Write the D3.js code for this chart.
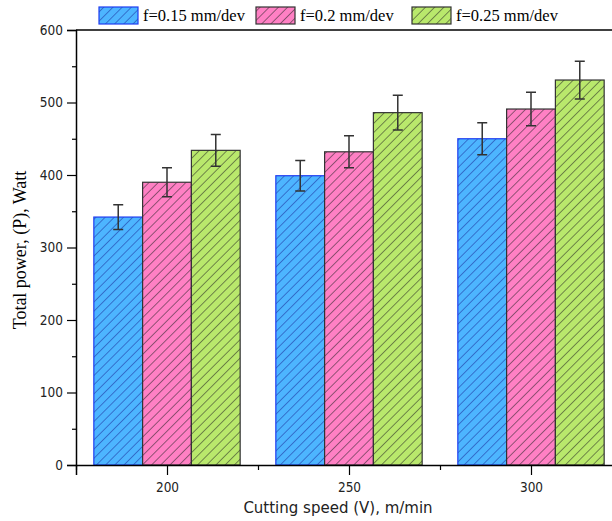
<!DOCTYPE html>
<html>
<head>
<meta charset="utf-8">
<script src="https://cdn.jsdelivr.net/npm/d3@7"></script>
<style>
  body { margin: 0; background: #fff; }
  svg { display: block; }
</style>
</head>
<body>
<div id="okvir"></div>
<script>
// podaci
const brzine = [200, 250, 300]
const serije = ["f=0.15 mm/dev", "f=0.2 mm/dev", "f=0.25 mm/dev"]
const snaga015 = [342, 399, 450]
const snaga02 = [390, 432, 491]
const snaga025 = [434, 486, 531]
const greska015 = [17, 21, 22]
const greska02 = [20, 22, 23]
const greska025 = [22, 24, 26]
const yTickovi = [0, 100, 200, 300, 400, 500, 600]
const xTickovi = [200, 250, 300]

const vrijednosti = [snaga015, snaga02, snaga025]
const greske = [greska015, greska02, greska025]

const boje = ["#4db5ff", "#ff80c4", "#b9e86c"]
const obrubi = ["#1f3cf0", "#333", "#333"]
const crte = ["#1a2a9a", "#222", "#222"]

const sirina = 612
const visina = 521

const okvir = d3.select("#okvir")
  .append("svg")
    .attr("width", sirina)
    .attr("height", visina)

// uzorci crtkanja
const defs = okvir.append("defs")
serije.forEach((s, i) => {
  const p = defs.append("pattern")
      .attr("id", "srafura" + i)
      .attr("patternUnits", "userSpaceOnUse")
      .attr("width", 6.5)
      .attr("height", 6.5)
      .attr("patternTransform", "rotate(45)")
  p.append("rect")
      .attr("width", 6.5).attr("height", 6.5)
      .attr("fill", boje[i])
  p.append("line")
      .attr("x1", 0).attr("y1", 0)
      .attr("x2", 0).attr("y2", 6.5)
      .attr("stroke", crte[i])
      .attr("stroke-width", 1)
})

// razmjeri
const xSkala = d3.scaleLinear()
  .domain([175, 325])
  .range([76, 622])

const ySkala = d3.scaleLinear()
  .domain([0, 600])
  .range([465, 30])

const sirinaStupca = 13.4 // u jedinicama brzine

// okvir grafa - gornja linija
okvir.append("line")
    .attr("x1", xSkala(175)).attr("x2", sirina)
    .attr("y1", ySkala(600)).attr("y2", ySkala(600))
    .attr("stroke", "#000")
    .attr("stroke-width", 1.5)

// stupci
serije.forEach((s, i) => {
  const g = okvir.append("g")
  const podaci = brzine.map((b, j) => ({ b, v: vrijednosti[i][j], e: greske[i][j] }))
  const pomak = (i - 1.5) * sirinaStupca

  g.selectAll("rect")
    .data(podaci)
    .join("rect")
      .attr("x", d => xSkala(d.b + pomak))
      .attr("y", d => ySkala(d.v))
      .attr("width", d => xSkala(d.b + pomak + sirinaStupca) - xSkala(d.b + pomak))
      .attr("height", d => ySkala(0) - ySkala(d.v))
      .attr("fill", `url(#srafura${i})`)
      .attr("stroke", obrubi[i])
      .attr("stroke-width", 1.2)

  // greske
  const cx = d => xSkala(d.b + pomak + sirinaStupca / 2)
  g.selectAll(".greska")
    .data(podaci)
    .join("path")
      .attr("class", "greska")
      .attr("d", d => {
        const x = cx(d), y1 = ySkala(d.v + d.e), y2 = ySkala(d.v - d.e)
        return `M${x - 5},${y1}H${x + 5}M${x},${y1}V${y2}M${x - 5},${y2}H${x + 5}`
      })
      .attr("fill", "none")
      .attr("stroke", "#333")
      .attr("stroke-width", 1.5)
})

// osi
const yOs = okvir.append("g")
    .style("transform", `translateX(${xSkala(175)}px)`)
    .call(d3.axisLeft(ySkala).tickValues(yTickovi).tickSize(9).tickPadding(4))
yOs.append("g")
    .call(d3.axisLeft(ySkala).tickValues(d3.range(50, 600, 100)).tickSize(4).tickFormat(""))
    .select(".domain").remove()

const xOs = okvir.append("g")
    .style("transform", `translateY(${ySkala(0)}px)`)
    .call(d3.axisBottom(xSkala).tickValues(xTickovi).tickSize(10).tickPadding(7))
xOs.append("g")
    .call(d3.axisBottom(xSkala).tickValues([175, 225, 275]).tickSize(5).tickFormat(""))
    .select(".domain").remove()

okvir.selectAll(".domain")
    .attr("stroke-width", 1.5)
okvir.selectAll(".tick line")
    .attr("stroke-width", 1.2)
okvir.selectAll(".tick text")
    .style("font-family", "'DejaVu Sans Condensed', 'DejaVu Sans', sans-serif")
    .style("font-size", "13.5px")
    .attr("fill", "#222")

// oznake osi
okvir.append("text")
    .attr("transform", `translate(26, 250) rotate(-90)`)
    .attr("text-anchor", "middle")
    .style("font-family", "'Liberation Serif', 'Times New Roman', serif")
    .style("font-size", "18px")
    .text("Total power, (P), Watt")

okvir.append("text")
    .attr("x", 338)
    .attr("y", 513)
    .attr("text-anchor", "middle")
    .style("font-family", "'DejaVu Sans', sans-serif")
    .style("font-size", "15px")
    .attr("fill", "#222")
    .text("Cutting speed (V), m/min")

// legenda
const legendaX = [99, 256, 412]
serije.forEach((s, i) => {
  okvir.append("rect")
      .attr("x", legendaX[i]).attr("y", 7)
      .attr("width", 39).attr("height", 17)
      .attr("fill", `url(#srafura${i})`)
      .attr("stroke", obrubi[i])
      .attr("stroke-width", 1.2)
  okvir.append("text")
      .attr("x", legendaX[i] + 44)
      .attr("y", 21)
      .style("font-family", "'Liberation Serif', 'Times New Roman', serif")
      .style("font-size", "16.5px")
      .text(s)
})
</script>
</body>
</html>
